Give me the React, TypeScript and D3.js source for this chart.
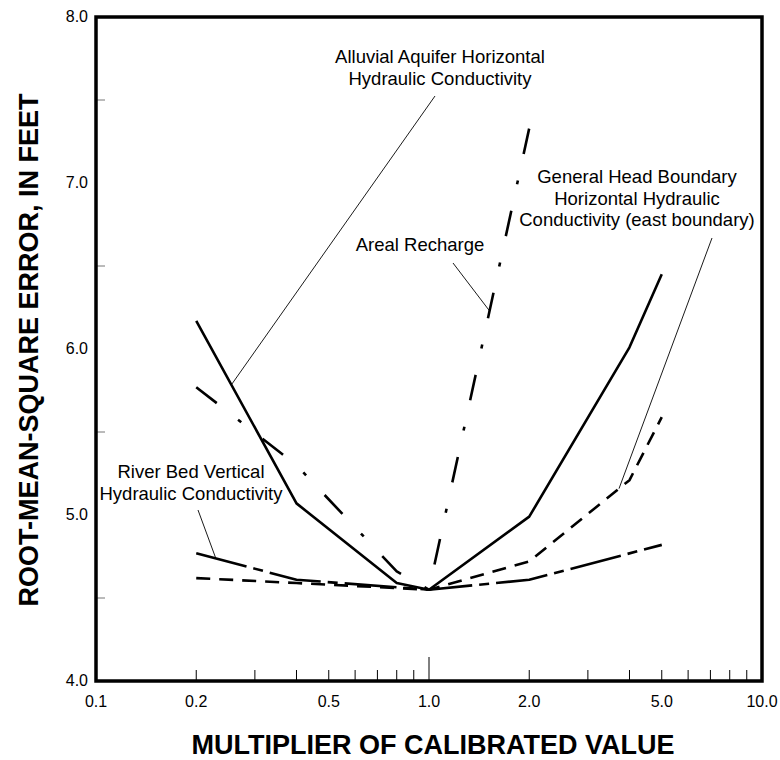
import React from "react";
import * as d3 from "d3";

// Multipliers applied to the calibrated parameter value, and resulting RMS error (ft)
const alluvialX = [0.2, 0.4, 0.8, 1.0, 2.0, 4.0, 5.0];
const alluvialY = [6.17, 5.07, 4.59, 4.55, 4.99, 6.01, 6.45];

const rechargeX = [0.2, 0.4, 0.8, 1.0, 2.0];
const rechargeY = [5.77, 5.3, 4.66, 4.55, 7.33];

const riverBedX = [0.2, 0.4, 1.0, 2.0, 5.0];
const riverBedY = [4.77, 4.61, 4.55, 4.61, 4.82];

const ghbX = [0.2, 0.4, 1.0, 2.0, 4.0, 5.0];
const ghbY = [4.62, 4.59, 4.55, 4.72, 5.21, 5.59];

const xLabelValues = [0.1, 0.2, 0.5, 1.0, 2.0, 5.0, 10.0];
const xLabelTexts = ["0.1", "0.2", "0.5", "1.0", "2.0", "5.0", "10.0"];
const xMinorTicks = [0.2, 0.3, 0.4, 0.5, 0.6, 0.7, 0.8, 0.9, 2, 3, 4, 5, 6, 7, 8, 9];
const yLabelValues = [4, 5, 6, 7, 8];
const yLabelTexts = ["4.0", "5.0", "6.0", "7.0", "8.0"];
const yMinorTicks = [4.5, 5.5, 6.5, 7.5];

const W = 780;
const H = 760;
const left = 96;
const right = 762;
const top = 17;
const bottom = 681;

const FONT = "'Liberation Sans', Arial, Helvetica, sans-serif";
const NARROW = "'Liberation Sans Narrow', 'Arial Narrow', 'Liberation Sans', Arial, sans-serif";

export default function App() {
  const x = d3.scaleLog().domain([0.1, 10]).range([left, right]);
  const y = d3.scaleLinear().domain([4, 8]).range([bottom, top]);

  const line = d3
    .line<[number, number]>()
    .x((d) => x(d[0]))
    .y((d) => y(d[1]));

  const pts = (xs: number[], ys: number[]) => xs.map((v, i) => [v, ys[i]] as [number, number]);

  // point on a series polyline at a given multiplier (linear in log-x)
  const at = (xs: number[], ys: number[], v: number): [number, number] => {
    for (let i = 0; i < xs.length - 1; i++) {
      if (v >= xs[i] && v <= xs[i + 1]) {
        const t = (Math.log(v) - Math.log(xs[i])) / (Math.log(xs[i + 1]) - Math.log(xs[i]));
        return [x(v), y(ys[i] + t * (ys[i + 1] - ys[i]))];
      }
    }
    return [x(v), y(ys[ys.length - 1])];
  };

  const series = [
    { xs: alluvialX, ys: alluvialY, dash: "none" },
    { xs: rechargeX, ys: rechargeY, dash: "26 27 4 27" },
    { xs: riverBedX, ys: riverBedY, dash: "52 7 10 7" },
    { xs: ghbX, ys: ghbY, dash: "14 9" },
  ];

  const leaders = [
    { from: [435, 96], to: at(alluvialX, alluvialY, 0.255) },
    { from: [453, 263], to: at(rechargeX, rechargeY, 1.52) },
    { from: [712, 238], to: at(ghbX, ghbY, 3.72) },
    { from: [198, 510], to: at(riverBedX, riverBedY, 0.229) },
  ];

  const labels = [
    { x: 440, y: 63, lines: ["Alluvial Aquifer Horizontal", "Hydraulic Conductivity"] },
    { x: 420, y: 251, lines: ["Areal Recharge"] },
    { x: 637, y: 183, lines: ["General Head Boundary", "Horizontal Hydraulic", "Conductivity (east boundary)"] },
    { x: 191, y: 478, lines: ["River Bed Vertical", "Hydraulic Conductivity"] },
  ];

  return (
    <svg width={W} height={H} style={{ display: "block", position: "absolute", left: 0, top: 0 }}>
      <rect width={W} height={H} fill="#fff" />

      {/* minor ticks */}
      {xMinorTicks.map((t) => (
        <line key={"xm" + t} x1={x(t)} x2={x(t)} y1={bottom} y2={bottom - 11} stroke="#000" strokeWidth={1} />
      ))}
      <line x1={x(1)} x2={x(1)} y1={bottom} y2={bottom - 24} stroke="#000" strokeWidth={1} />
      {yMinorTicks.map((t) => (
        <line key={"ym" + t} x1={left} x2={left + 9} y1={y(t)} y2={y(t)} stroke="#777" strokeWidth={1} />
      ))}

      {/* series */}
      {series.map((s, i) => (
        <path
          key={i}
          d={line(pts(s.xs, s.ys)) || ""}
          fill="none"
          stroke="#000"
          strokeWidth={2.6}
          strokeDasharray={s.dash}
          strokeLinejoin="round"
        />
      ))}

      {/* leaders */}
      {leaders.map((l, i) => (
        <line key={"ld" + i} x1={l.from[0]} y1={l.from[1]} x2={l.to[0]} y2={l.to[1]} stroke="#000" strokeWidth={0.9} />
      ))}

      {/* frame */}
      <rect x={left} y={top} width={right - left} height={bottom - top} fill="none" stroke="#000" strokeWidth={3.5} />

      {/* tick labels */}
      {xLabelValues.map((v, i) => (
        <text key={"xl" + v} x={x(v)} y={707} textAnchor="middle" fontFamily={FONT} fontSize={16}>
          {xLabelTexts[i]}
        </text>
      ))}
      {yLabelValues.map((v, i) => (
        <text key={"yl" + v} x={88} y={y(v) + 5} textAnchor="end" fontFamily={FONT} fontSize={16}>
          {yLabelTexts[i]}
        </text>
      ))}

      {/* annotations */}
      {labels.map((lb, i) => (
        <text key={"lb" + i} textAnchor="middle" fontFamily={FONT} fontSize={18.5}>
          {lb.lines.map((ln, j) => (
            <tspan key={j} x={lb.x} y={lb.y + j * 21.5}>
              {ln}
            </tspan>
          ))}
        </text>
      ))}

      {/* axis titles */}
      <text x={433} y={754} textAnchor="middle" fontFamily={NARROW} fontWeight="bold" fontSize={27}>
        MULTIPLIER OF CALIBRATED VALUE
      </text>
      <text
        transform={`translate(38, 350) rotate(-90)`}
        textAnchor="middle"
        fontFamily={NARROW}
        fontWeight="bold"
        fontSize={27}
      >
        ROOT-MEAN-SQUARE ERROR, IN FEET
      </text>
    </svg>
  );
}
